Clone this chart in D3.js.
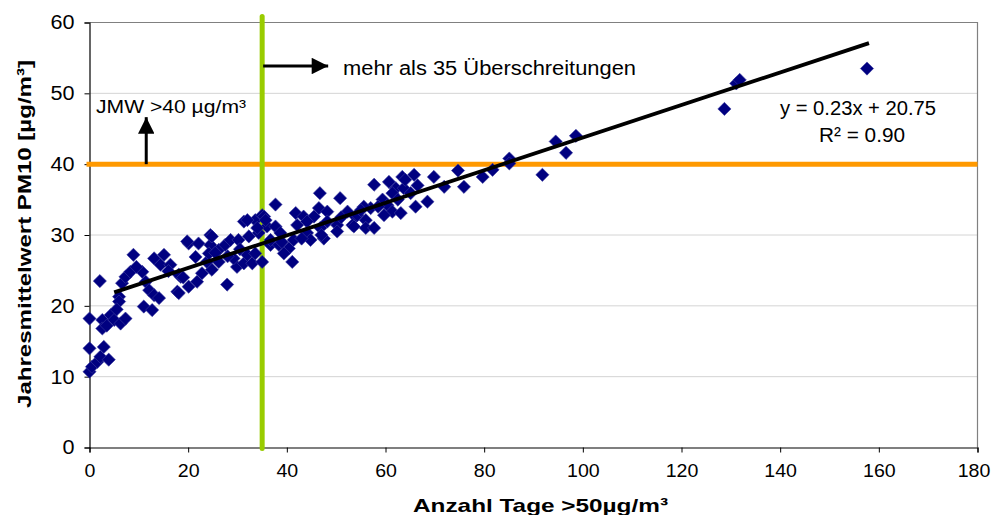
<!DOCTYPE html>
<html>
<head>
<meta charset="utf-8">
<script src="https://cdn.jsdelivr.net/npm/d3@7/dist/d3.min.js"></script>
<style>
  body { margin: 0; background: #fff; }
  svg text { font-family: "Liberation Sans", Arial, sans-serif; fill: #000; }
</style>
</head>
<body>
<div id="chart"></div>
<script>
// Anzahl Tage > 50 µg/m³ (x) und Jahresmittelwert PM10 (y) je Station
const days = [
  0, 0, 0, 0.5, 1.6, 2.2, 2.9, 3.9, 2.6, 2.6, 4.3, 5, 6.3, 7.3, 2.1, 6, 6,
  6.6, 7.3, 8.3, 8.9, 10.7, 11.4, 12.1, 13.1, 14.1, 11, 12.7, 13.1, 15.1, 14.4, 16.4,
  17.8, 18.5, 18.1, 18.1, 20.1, 21.8, 22.8, 24.8, 26.2, 27.9, 29.9, 29.2, 31.3, 33, 32,
  33.6, 21.5, 23.8, 26.2, 20.1, 22.1, 24.5, 24.5, 24.2, 27.5, 28.6, 30.2, 32.3, 31.3, 33.6,
  34.3, 36.7, 19.8, 24.8, 32, 35, 46.7, 50.8, 37.7, 35.4, 41.8, 43.4, 46.5, 48.2, 52.3,
  53.9, 45.5, 44.1, 42.1, 36, 37.7, 48.2, 50.2, 53.3, 46.8, 50.2, 38.7, 44.1, 36.7, 41.4,
  44.8, 47.5, 38.4, 40.4, 39.4, 35, 41.1, 35.7, 65.8, 63.4, 69.8, 57.7, 60.7, 62.1, 63.7,
  61.4, 65.1, 68.5, 66.1, 71.9, 59.4, 57, 55.6, 60.4, 61.4, 59.7, 63.1, 54.3, 56, 53.6,
  56, 57.7, 74.7, 75.9, 79.7, 81.7, 85.1, 85.1, 91.8, 94.5, 96.6, 98.6, 128.7, 131.1, 131.8,
  157.6, 9.5, 16, 19, 25.5, 28, 30.5, 34, 39, 43, 47, 51, 55, 58.5, 62.5, 66.5, 64, 3.5, 5.5
];
const pm10 = [
  18.2, 14.0, 10.7, 11.4, 12.1, 12.8, 14.2, 12.4, 18.0, 16.8, 18.7, 18.0, 17.5, 18.2, 23.5, 21.3, 20.6,
  23.2, 24.1, 24.8, 27.2, 24.8, 23.4, 22.2, 21.5, 21.1, 19.9, 19.4, 26.7, 27.2, 25.8, 25.8,
  22.0, 24.1, 24.4, 21.8, 22.7, 23.4, 24.6, 25.1, 26.2, 23.0, 25.5, 26.7, 26.0, 26.0, 27.2,
  27.4, 26.9, 26.2, 27.9, 28.8, 28.8, 30.0, 28.6, 27.4, 28.6, 29.3, 29.3, 29.8, 31.9, 32.1,
  30.3, 28.6, 29.1, 29.8, 32.1, 32.8, 35.9, 35.2, 34.3, 32.6, 33.1, 32.6, 33.8, 33.3, 33.3,
  32.6, 32.6, 31.9, 31.4, 31.2, 31.2, 31.9, 31.4, 31.4, 31.0, 30.5, 30.3, 30.3, 29.3, 29.3,
  29.3, 29.5, 28.6, 28.1, 27.4, 26.2, 26.2, 32.1, 38.5, 38.2, 38.2, 37.1, 37.5, 36.6, 36.6,
  35.9, 35.9, 34.7, 34.0, 36.8, 35.0, 33.8, 34.0, 34.2, 33.3, 32.8, 33.1, 32.8, 32.1, 31.2,
  31.0, 31.0, 39.1, 36.8, 38.2, 39.2, 40.8, 40.1, 38.5, 43.2, 41.6, 44.0, 47.8, 51.4, 51.9,
  53.5, 25.5, 24.9, 24.0, 27.5, 27.0, 28.0, 31.0, 29.0, 29.5, 30.0, 32.5, 33.5, 34.0, 35.0, 37.0, 37.8, 17.2, 19.5
];

const xTicks = [0, 20, 40, 60, 80, 100, 120, 140, 160, 180];
const yTicks = [0, 10, 20, 30, 40, 50, 60];

// Trendlinie und Grenzwerte
const trendSlope = 0.23;
const trendIntercept = 20.75;
const trendRange = [5, 158];
const limitJMW = 40;
const limitDays = 35;
const equationLines = ["y = 0.23x + 20.75", "R² = 0.90"];

const width = 992, height = 515;
const margin = { left: 89.5, right: 14.5, top: 22.5, bottom: 67.5 };
const innerW = width - margin.left - margin.right;
const innerH = height - margin.top - margin.bottom;

// Texte im Original sind leicht in die Breite gezogen
const stretch = (sel, k) => sel.each(function () {
  const len = this.getComputedTextLength();
  d3.select(this).attr("textLength", len * k).attr("lengthAdjust", "spacingAndGlyphs");
});

const svg = d3.select("#chart").append("svg")
  .attr("width", width)
  .attr("height", height);

const g = svg.append("g")
  .attr("transform", `translate(${margin.left},${margin.top})`);

const x = d3.scaleLinear().domain([0, 180]).range([0, innerW]);
const y = d3.scaleLinear().domain([0, 60]).range([innerH, 0]);

// Gitternetz
g.append("g")
  .selectAll("line")
  .data(yTicks.filter(d => d > 0 && d < 60))
  .enter()
  .append("line")
  .attr("x1", 0)
  .attr("x2", innerW)
  .attr("y1", d => y(d))
  .attr("y2", d => y(d))
  .style("stroke", "#d4d4d4")
  .style("stroke-width", 1);

// Rahmen oben / rechts
g.append("path")
  .attr("d", `M0,${y(60)}H${innerW}V${innerH}`)
  .style("fill", "none")
  .style("stroke", "#808080")
  .style("stroke-width", 1.2);

// Achsen
const xAxis = g.append("g")
  .attr("transform", `translate(0,${innerH})`)
  .call(d3.axisBottom(x).tickValues(xTicks).tickSize(5).tickPadding(11));
const yAxis = g.append("g")
  .call(d3.axisLeft(y).tickValues(yTicks).tickSize(5).tickPadding(10));

[xAxis, yAxis].forEach(a => {
  a.select(".domain").style("stroke", "#000").style("stroke-width", 1.2);
  a.selectAll(".tick line").style("stroke", "#000");
  a.selectAll("text")
    .style("fill", "#000")
    .style("font-family", "'Liberation Sans', Arial, sans-serif");
});
xAxis.selectAll("text").style("font-size", "19px").call(stretch, 1.03);
yAxis.selectAll("text").style("font-size", "20px").call(stretch, 1.08);
// letzte Beschriftung am rechten Rand etwas einrücken
xAxis.selectAll(".tick text").filter(d => d === 180).attr("dx", -4);

// Grenzwertlinie 40 µg/m³
g.append("line")
  .attr("x1", -3)
  .attr("x2", innerW)
  .attr("y1", y(limitJMW))
  .attr("y2", y(limitJMW))
  .style("stroke", "#ff9900")
  .style("stroke-width", 5);

// 35 Überschreitungen
g.append("line")
  .attr("x1", x(limitDays))
  .attr("x2", x(limitDays))
  .attr("y1", y(60) - 6)
  .attr("y2", innerH + 1)
  .style("stroke", "#99cc00")
  .style("stroke-width", 5)
  .style("stroke-linecap", "round");

// Datenpunkte
const diamond = "M0,-6.6L6.6,0L0,6.6L-6.6,0Z";
g.append("g")
  .attr("class", "dots")
  .selectAll("path")
  .data(days.map((d, i) => ({ x: d, y: pm10[i] })))
  .enter()
  .append("path")
  .attr("d", diamond)
  .attr("transform", d => `translate(${x(d.x)},${y(d.y)})`)
  .attr("fill", "#000080")
  .attr("stroke", "#3a3aa0")
  .attr("stroke-width", 0.6);

// Trendlinie
g.append("line")
  .attr("x1", x(trendRange[0]))
  .attr("y1", y(trendSlope * trendRange[0] + trendIntercept))
  .attr("x2", x(trendRange[1]))
  .attr("y2", y(trendSlope * trendRange[1] + trendIntercept))
  .style("stroke", "#000")
  .style("stroke-width", 3.8);

// Pfeile
const defs = svg.append("defs");
defs.append("marker")
  .attr("id", "arrow")
  .attr("viewBox", "0 0 10 10")
  .attr("refX", 10)
  .attr("refY", 5)
  .attr("markerWidth", 7)
  .attr("markerHeight", 5.5)
  .attr("markerUnits", "strokeWidth")
  .attr("orient", "auto")
  .append("path")
  .attr("d", "M0,0L10,5L0,10Z")
  .attr("fill", "#000");

g.append("line")
  .attr("x1", x(11.5))
  .attr("y1", y(limitJMW))
  .attr("x2", x(11.5))
  .attr("y2", y(limitJMW) - 47)
  .style("stroke", "#000")
  .style("stroke-width", 3)
  .attr("marker-end", "url(#arrow)");

g.append("line")
  .attr("x1", x(limitDays) + 1)
  .attr("y1", 43.5)
  .attr("x2", x(limitDays) + 66)
  .attr("y2", 43.5)
  .style("stroke", "#000")
  .style("stroke-width", 3)
  .attr("marker-end", "url(#arrow)");

// Beschriftungen
g.append("text")
  .attr("x", 6.5)
  .attr("y", 90.5)
  .style("font-size", "19px")
  .attr("textLength", 150)
  .attr("lengthAdjust", "spacingAndGlyphs")
  .text("JMW >40 µg/m³");

g.append("text")
  .attr("x", 253.5)
  .attr("y", 52.5)
  .style("font-size", "20px")
  .attr("textLength", 293)
  .attr("lengthAdjust", "spacingAndGlyphs")
  .text("mehr als 35 Überschreitungen");

const eqWidths = [156, 86];
g.selectAll(".eq")
  .data(equationLines)
  .enter()
  .append("text")
  .attr("class", "eq")
  .attr("x", (d, i) => i === 0 ? 768.5 : 772.5)
  .attr("y", (d, i) => 92.5 + i * 27)
  .attr("text-anchor", "middle")
  .style("font-size", "20px")
  .attr("textLength", (d, i) => eqWidths[i])
  .attr("lengthAdjust", "spacingAndGlyphs")
  .text(d => d);

svg.append("text")
  .attr("transform", `translate(31,${margin.top + innerH / 2 - 1}) rotate(-90)`)
  .attr("text-anchor", "middle")
  .style("font-size", "19px")
  .style("font-weight", "bold")
  .attr("textLength", 348)
  .attr("lengthAdjust", "spacingAndGlyphs")
  .text("Jahresmittelwert PM10 [µg/m³]");

svg.append("text")
  .attr("x", 540.5)
  .attr("y", 512)
  .attr("text-anchor", "middle")
  .style("font-size", "19px")
  .style("font-weight", "bold")
  .attr("textLength", 255)
  .attr("lengthAdjust", "spacingAndGlyphs")
  .text("Anzahl Tage >50µg/m³");
</script>
</body>
</html>
